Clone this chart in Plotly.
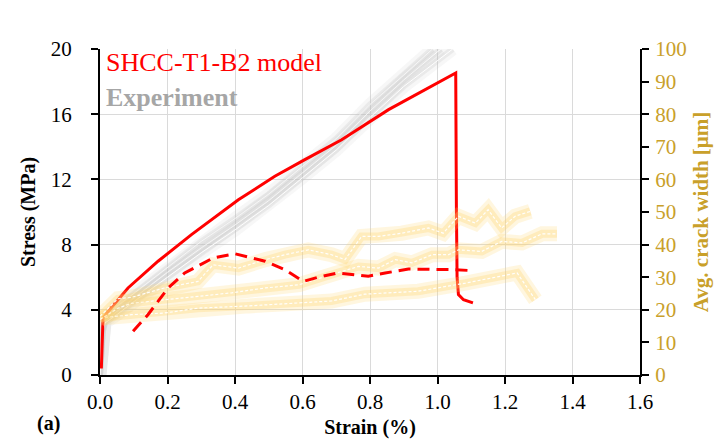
import plotly.graph_objects as go

# ---------------- data ----------------
model_strain = [0.004, 0.006, 0.009, 0.024, 0.083, 0.172, 0.271, 0.41, 0.518, 0.607, 0.716, 0.855, 1.054, 1.056, 1.058, 1.062, 1.077, 1.105]
model_stress = [0.4, 2.0, 3.5, 3.9, 5.34, 6.98, 8.61, 10.75, 12.19, 13.21, 14.43, 16.28, 18.53, 10.2, 6.0, 4.93, 4.62, 4.42]

model_cw_strain = [0.098, 0.142, 0.202, 0.251, 0.335, 0.40, 0.489, 0.548, 0.602, 0.647, 0.706, 0.795, 0.845, 0.914, 1.053, 1.105]
model_cw = [13.4, 18.5, 26.7, 31.3, 35.9, 37.2, 34.9, 32.3, 28.7, 30.0, 31.3, 30.3, 31.3, 32.5, 32.3, 32.0]

exp_strain = [0.0, 0.003, 0.008, 0.015, 0.05, 0.1, 0.2, 0.3, 0.4, 0.5, 0.6, 0.7, 0.8, 0.9]
exp1_stress = [0.0, 1.5, 2.8, 3.4, 4.2, 5.0, 6.6, 8.2, 9.6, 11.1, 12.8, 14.5, 16.6, 18.4]
exp2_stress = [0.0, 1.4, 2.7, 3.3, 3.9, 4.7, 6.3, 7.8, 9.2, 10.7, 12.4, 14.1, 16.2, 18.1]
exp3_stress = [0.0, 1.3, 2.6, 3.2, 3.7, 4.5, 6.0, 7.5, 8.9, 10.4, 12.1, 13.8, 15.8, 17.7]
exp_end_strain = [0.985, 1.01, 1.045]
exp_end_stress = [20.0, 20.0, 20.0]

cw1_strain = [0.0, 0.093, 0.19, 0.29, 0.44, 0.59, 0.686, 0.785, 0.943, 1.083, 1.236, 1.29]
cw1 = [17.5, 18.5, 19.0, 20.5, 21.2, 22.1, 22.7, 24.8, 25.7, 28.2, 31.3, 23.1]

cw2_strain = [0.0, 0.053, 0.093, 0.19, 0.29, 0.39, 0.49, 0.59, 0.686, 0.766, 0.825, 0.875, 0.924, 0.984, 1.033, 1.062, 1.131, 1.19, 1.25, 1.31, 1.354]
cw2 = [17.0, 20.5, 22.0, 23.1, 24.1, 25.2, 26.7, 27.7, 30.8, 33.3, 32.8, 35.4, 34.4, 36.9, 36.9, 38.4, 37.9, 41.0, 40.5, 43.3, 43.3]

cw3_strain = [0.0, 0.053, 0.093, 0.19, 0.29, 0.335, 0.41, 0.49, 0.548, 0.617, 0.686, 0.726, 0.775, 0.825, 0.894, 0.973, 1.017, 1.062, 1.112, 1.15, 1.19, 1.23, 1.275]
cw3 = [18.0, 23.4, 23.8, 26.7, 28.7, 33.8, 32.8, 35.4, 36.9, 38.4, 36.9, 35.4, 42.5, 42.5, 43.5, 45.1, 43.5, 48.7, 46.6, 50.7, 45.1, 48.7, 50.2]

x_ticks = [0.0, 0.2, 0.4, 0.6, 0.8, 1.0, 1.2, 1.4, 1.6]

GOLD = "#C9A02A"
FONT = "Liberation Serif, Tinos, serif"

fig = go.Figure()

# experiment stress curves (gray glow)
for s, e_x, e_y in zip([exp1_stress, exp2_stress, exp3_stress], exp_end_strain, exp_end_stress):
    xs = exp_strain + [e_x]
    ys = s + [e_y]
    fig.add_trace(go.Scatter(x=xs, y=ys, mode="lines", line=dict(color="rgba(190,190,190,0.13)", width=13), hoverinfo="skip", showlegend=False))
    fig.add_trace(go.Scatter(x=xs, y=ys, mode="lines", line=dict(color="rgba(190,190,190,0.22)", width=6), hoverinfo="skip", showlegend=False))
    fig.add_trace(go.Scatter(x=xs, y=ys, mode="lines", line=dict(color="rgba(255,255,255,0.95)", width=1), hoverinfo="skip", showlegend=False))

# model stress
fig.add_trace(go.Scatter(x=model_strain, y=model_stress, mode="lines", line=dict(color="#FF0000", width=3), showlegend=False))

# experiment crack widths (yellow glow, white dashed)
for xs, ys in [(cw1_strain, cw1), (cw2_strain, cw2), (cw3_strain, cw3)]:
    fig.add_trace(go.Scatter(x=xs, y=ys, yaxis="y2", mode="lines", line=dict(color="rgba(255,212,110,0.22)", width=15), hoverinfo="skip", showlegend=False))
    fig.add_trace(go.Scatter(x=xs, y=ys, yaxis="y2", mode="lines", line=dict(color="rgba(255,212,110,0.30)", width=8), hoverinfo="skip", showlegend=False))
    fig.add_trace(go.Scatter(x=xs, y=ys, yaxis="y2", mode="lines", line=dict(color="rgba(255,255,255,0.95)", width=1.2, dash="3px,2px"), hoverinfo="skip", showlegend=False))

# model crack width
fig.add_trace(go.Scatter(x=model_cw_strain, y=model_cw, yaxis="y2", mode="lines", line=dict(color="#FF0000", width=3, dash="12px,7px"), showlegend=False))

axis_common = dict(showline=True, linecolor="black", linewidth=2, ticks="outside", ticklen=7, tickwidth=2, tickcolor="black", zeroline=False)

fig.update_layout(
    width=728, height=443,
    margin=dict(l=92, r=96, t=41, b=76),
    paper_bgcolor="white", plot_bgcolor="white",
    font=dict(family=FONT, size=21, color="black"),
    xaxis=dict(range=[0, 1.6], tickvals=x_ticks, tickformat=".1f", showgrid=True, gridcolor="#DADADA", gridwidth=1,
               tickfont=dict(family=FONT, size=21), ticklabelstandoff=0,
               title=dict(text="<b>Strain (%)</b>", font=dict(family=FONT, size=20), standoff=7), **axis_common),
    yaxis=dict(range=[0, 20], dtick=4, showgrid=True, gridcolor="#DADADA", gridwidth=1,
               tickfont=dict(family=FONT, size=21), ticklabelstandoff=15,
               title=dict(text="<b>Stress (MPa)</b>", font=dict(family=FONT, size=20), standoff=10), **axis_common),
    yaxis2=dict(range=[0, 100], dtick=10, overlaying="y", side="right", showgrid=False,
                tickfont=dict(family=FONT, color=GOLD, size=21), ticklabelstandoff=2,
                title=dict(text="<b>Avg. crack width [μm]</b>", font=dict(family=FONT, color=GOLD, size=21), standoff=8), **axis_common),
)

# annotations placed by pixel position, converted to paper coords
pw, ph = 728 - 92 - 96, 443 - 41 - 76
labels = [("SHCC-T1-B2 model", 96, 55, "#FF0000", 26),
          ("<b>Experiment</b>", 96, 89, "#A6A6A6", 26),
          ("<b>(a)</b>", 27, 415, "black", 20)]
fig.update_layout(annotations=[
    dict(text=t, xref="paper", yref="paper", x=(px - 92) / pw, y=(443 - py - 76) / ph,
         xanchor="left", yanchor="middle", showarrow=False, font=dict(color=c, size=s, family=FONT))
    for t, px, py, c, s in labels
])

fig.write_html("out.html")
